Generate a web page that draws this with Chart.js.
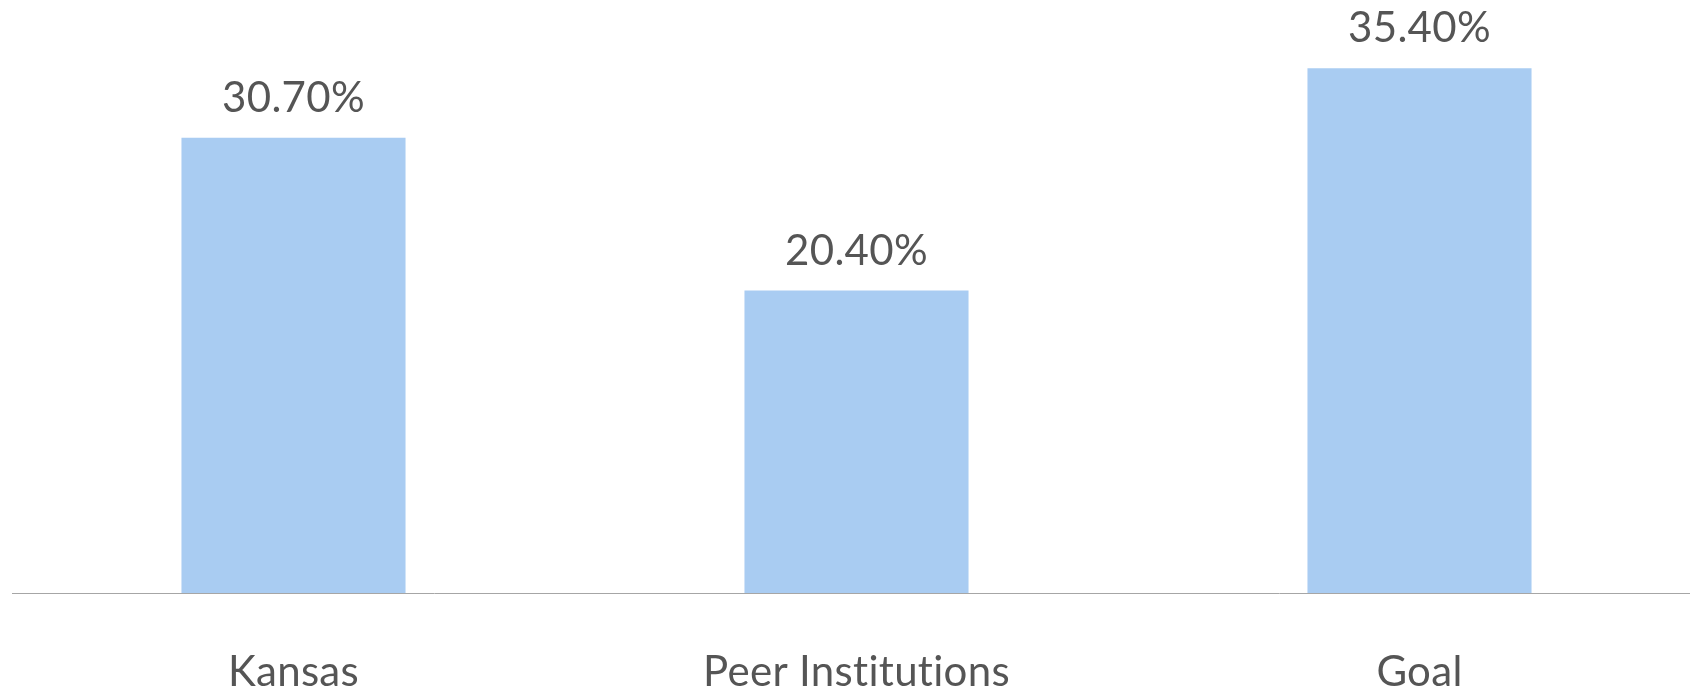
<!DOCTYPE html>
<html>
<head>
<meta charset="utf-8">
<script src="https://cdn.jsdelivr.net/npm/chart.js@4"></script>
<style>
  html, body { margin: 0; padding: 0; background: #fff; overflow: hidden; }
  #wrap { width: 1690px; height: 694px; overflow: hidden; }
</style>
</head>
<body>
<div id="wrap"><canvas id="chart" width="1701" height="694"></canvas></div>
<script>
const categories = ["Kansas", "Peer Institutions", "Goal"];
const rates = [30.7, 20.4, 35.4];
const yRange = [0, 40];

const barColor = "#a9ccf2";
const textColor = "#555555";

// value labels above each bar
const valueLabels = {
  id: "valueLabels",
  beforeDraw(chart) {
    // a touch of spacing keeps Lato from joining "ti"
    chart.ctx.letterSpacing = "0.3px";
  },
  afterDatasetsDraw(chart) {
    const ctx = chart.ctx;
    const meta = chart.getDatasetMeta(0);
    ctx.save();
    ctx.font = "42px Lato";
    ctx.fillStyle = textColor;
    ctx.textAlign = "center";
    ctx.textBaseline = "alphabetic";
    meta.data.forEach((bar, i) => {
      ctx.fillText(rates[i].toFixed(2) + "%", bar.x, bar.y - 26);
    });
    ctx.restore();
  }
};

new Chart(document.getElementById("chart"), {
  type: "bar",
  data: {
    labels: categories,
    datasets: [
      {
        data: rates,
        backgroundColor: barColor,
        barPercentage: 0.398,
        categoryPercentage: 1
      }
    ]
  },
  options: {
    responsive: false,
    animation: false,
    layout: { padding: { left: 12, right: 0, top: 0, bottom: 0 } },
    plugins: {
      legend: { display: false },
      tooltip: { enabled: false }
    },
    scales: {
      x: {
        grid: { display: false, drawTicks: false },
        border: { display: true, color: "#a6a6a6", width: 1 },
        ticks: {
          color: textColor,
          font: { family: "Lato", size: 42 },
          padding: 54,
          maxRotation: 0
        },
        afterFit(scale) {
          scale.height = 101;
        }
      },
      y: {
        display: false,
        min: yRange[0],
        max: yRange[1]
      }
    }
  },
  plugins: [valueLabels]
});
</script>
</body>
</html>
